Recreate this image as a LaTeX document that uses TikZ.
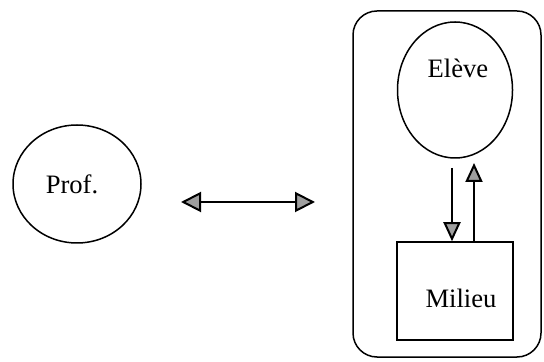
\documentclass[tikz,border=0pt]{standalone}
\usepackage{fontspec}
\setmainfont{Liberation Serif}
\usetikzlibrary{positioning,arrows.meta,shapes.geometric}

\begin{document}
\begin{tikzpicture}[x=0.5pt, y=-0.5pt, line width=0.75pt,
		font=\fontsize{13.3}{16}\selectfont,
		>={Triangle[length=10pt,width=10pt,fill=gray!75]},
		bulle/.style={draw, ellipse, inner sep=0pt},
		boite/.style={draw, rectangle, inner sep=0pt},
		fleche/.style={line width=1pt}]
		\useasboundingbox (0,0) rectangle (544,362);
		% acteurs
		\node[bulle, minimum width=64pt, minimum height=59pt] (prof) at (77,184) {};
		\node (proftxt) at (72,184) {Prof.};
		\node[draw, rounded corners=12pt, minimum width=94pt, minimum height=173pt] (systeme) at (447,184) {};
		\node[bulle, minimum width=57.5pt, minimum height=68pt] (eleve) at (455,90) {};
		\node (elevetxt) at (458,68) {Elève};
		\node[boite, minimum width=58pt, minimum height=49pt] (milieu) at (455,291) {};
		\node (milieutxt) at (461,298) {Milieu};

		% relations
		\coordinate (g) at (181,202);
		\coordinate (d) at (315,202);
		\draw[fleche, <->] (g) -- (d);
		\coordinate (desc) at (452,168);
		\coordinate (mont) at (474,163);
		\draw[fleche, ->, >={Triangle[length=9.5pt,width=8.5pt,fill=gray!75]}] (desc) -- (desc |- milieu.north);
		\draw[fleche, ->, >={Triangle[length=9.5pt,width=8.5pt,fill=gray!75]}] (mont |- milieu.north) -- (mont);
	\end{tikzpicture}
\end{document}
